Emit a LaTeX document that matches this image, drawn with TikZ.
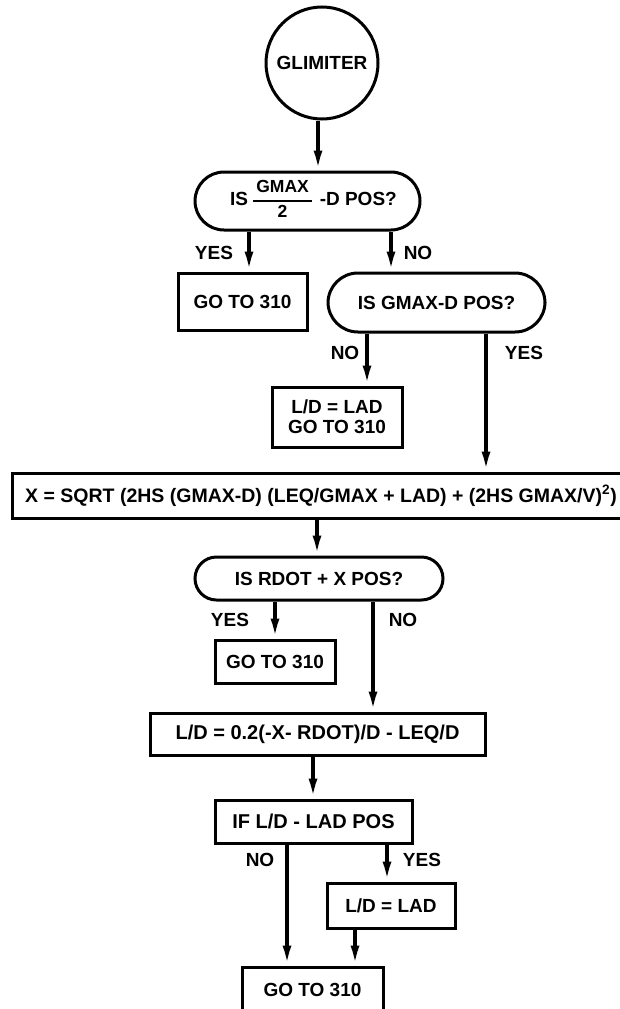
\documentclass[tikz,border=0pt]{standalone}
\usepackage{fontspec}
\setmainfont{Liberation Sans}
\usetikzlibrary{arrows.meta}
\begin{document}
\begin{tikzpicture}[x=1pt,y=-1pt,
  every node/.style={font=\fontsize{19}{21}\selectfont\bfseries, inner sep=0pt, align=center},
  boxnode/.style={draw, line width=3pt, rectangle},
  term/.style={draw, line width=3pt, rectangle, rounded corners=#1},
  arr/.style={line width=3.5pt, -{Latex[length=20pt,width=9pt]}},
]
\useasboundingbox (0,0) rectangle (620,1009);

% nodes
\node[draw, circle, line width=3pt, minimum size=112pt] (c) at (322,63) {GLIMITER};
\node[term=29pt, minimum width=225pt, minimum height=58pt] (t1) at (307.5,201)
  {\hspace*{12pt}IS \setlength\arrayrulewidth{2.2pt}\begin{tabular}[c]{@{}c@{}}\fontsize{17.5}{17}\selectfont\bfseries\,GMAX\,\\[1pt]\hline\rule{0pt}{15pt}\fontsize{17.5}{17}\selectfont\bfseries 2\end{tabular}\hspace{8pt}-D POS?};
\node (yes1) at (214,253) {YES};
\node (no1) at (418,253) {NO};
\node[boxnode, minimum width=129pt, minimum height=57pt] (g1) at (242.5,301.5) {GO TO 310};
\node[term=30pt, minimum width=217pt, minimum height=59pt] (t2) at (436.5,302.5) {IS GMAX-D POS?};
\node (no2) at (345,353) {NO};
\node (yes2) at (524,353) {YES};
\node[boxnode, minimum width=130pt, minimum height=60pt] (b1) at (337,417) {L/D = LAD\\[-1pt]GO TO 310};
\node[boxnode, minimum width=630pt, minimum height=45pt, font=\fontsize{19.5}{22}\selectfont\bfseries] (w) at (327,495.5)
  {X = SQRT (2HS (GMAX-D) (LEQ/GMAX + LAD) + (2HS GMAX/V)\textsuperscript{2})\hspace*{12pt}};
\node[term=21.5pt, minimum width=248pt, minimum height=43pt] (t3) at (319,578.5) {IS RDOT + X POS?};
\node (yes3) at (230,620) {YES};
\node (no3) at (403,620) {NO};
\node[boxnode, minimum width=120pt, minimum height=43pt] (g2) at (275,661.5) {GO TO 310};
\node[boxnode, minimum width=335pt, minimum height=42pt, font=\fontsize{20}{22}\selectfont\bfseries] (b2) at (317.5,734) {L/D = 0.2(-X- RDOT)/D - LEQ/D};
\node[boxnode, minimum width=197pt, minimum height=43pt, font=\fontsize{20}{22}\selectfont\bfseries] (b3) at (313.5,821.5) {IF L/D - LAD POS};
\node (no4) at (260,860) {NO};
\node (yes4) at (422,860) {YES};
\node[boxnode, minimum width=128pt, minimum height=45pt] (b4) at (391,905.5) {L/D = LAD};
\node[boxnode, minimum width=141pt, minimum height=45pt] (g3) at (312.5,989.5) {GO TO 310};

% arrow x positions
\coordinate (xa1) at (318,0);
\coordinate (xa2) at (249,0);
\coordinate (xa3) at (391,0);
\coordinate (xa4) at (367,0);
\coordinate (xa5) at (486,0);
\coordinate (xa6) at (317,0);
\coordinate (xa7) at (275,0);
\coordinate (xa8) at (373,0);
\coordinate (xa9) at (313,0);
\coordinate (xa10) at (287,0);
\coordinate (xa11) at (387,0);
\coordinate (xa12) at (355,0);

% connectors
\draw[arr] (c.south -| xa1) -- (t1.north -| xa1);
\draw[arr] (t1.south -| xa2) -- (g1.north -| xa2);
\draw[arr] (t1.south -| xa3) -- (t2.north -| xa3);
\draw[arr] (t2.south -| xa4) -- (b1.north -| xa4);
\draw[arr] (t2.south -| xa5) -- (w.north -| xa5);
\draw[arr] (w.south -| xa6) -- (t3.north -| xa6);
\draw[arr] (t3.south -| xa7) -- (g2.north -| xa7);
\draw[arr] (t3.south -| xa8) -- (b2.north -| xa8);
\draw[arr] (b2.south -| xa9) -- (b3.north -| xa9);
\draw[arr] (b3.south -| xa10) -- (g3.north -| xa10);
\draw[arr] (b3.south -| xa11) -- (b4.north -| xa11);
\draw[arr] (b4.south -| xa12) -- (g3.north -| xa12);
\end{tikzpicture}
\end{document}
